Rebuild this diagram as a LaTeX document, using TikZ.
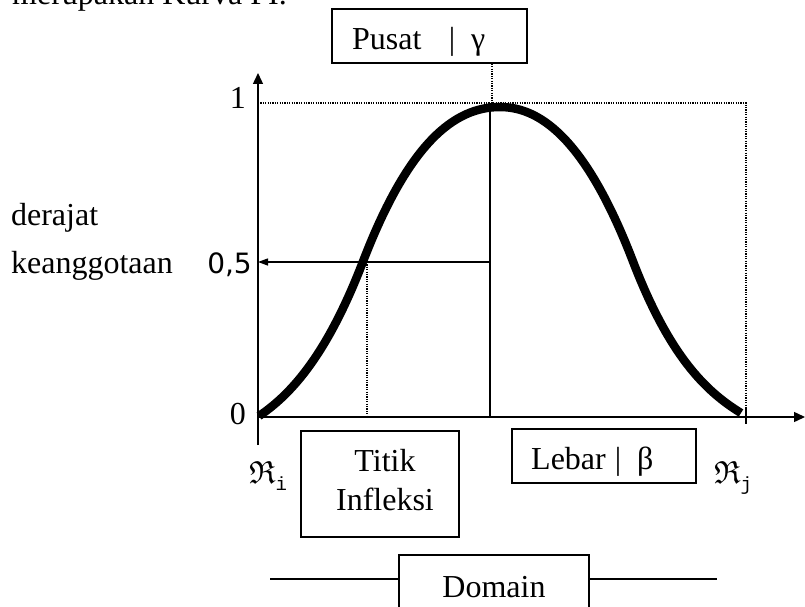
\documentclass[tikz,border=0pt]{standalone}
\usepackage{amssymb}
\usepackage{fontspec}
\setmainfont{Liberation Serif}
\newfontfamily\numfont{DejaVu Sans}
\newfontfamily\monof{Liberation Mono}
\usetikzlibrary{arrows.meta}
\begin{document}
\begin{tikzpicture}[x=1pt,y=-1pt,
  txt/.style={inner sep=0pt,font=\fontsize{32}{37}\selectfont},
  boxnode/.style={draw,line width=1.6pt,inner sep=0pt},
  axisline/.style={line width=1.4pt},
  dotline/.style={line width=1.3pt,dash pattern=on 1.2pt off 1.2pt},
  bigtip/.style={-{Triangle[length=11pt,width=10pt]}},
  smalltip/.style={-{Triangle[length=10pt,width=7pt]}},
  curveline/.style={line width=8.5pt,line join=round}]
\useasboundingbox (0,0) rectangle (805,607);

% title (cut at top, as in the source)
\node[txt,anchor=base west] (title) at (12,5) {merupakan Kurva PI.};

% coordinates
\coordinate (O) at (258,417);
\coordinate (ybot) at (258,445);
\coordinate (ytop) at (258,73);
\coordinate (xend) at (805,417);
\coordinate (one) at (258,103);
\coordinate (topright) at (746,103);
\coordinate (rightbot) at (746,417);
\coordinate (peak) at (492,103);
\coordinate (midtop) at (490,103);
\coordinate (midbot) at (490,417);
\coordinate (halfmid) at (490,262);
\coordinate (half) at (258,262);
\coordinate (infl) at (367,262);
\coordinate (inflbot) at (367,417);
\coordinate (ticktop) at (746,408);
\coordinate (tickbot) at (746,424);

% axes
\draw[axisline,bigtip] (ybot) -- (ytop);
\draw[axisline,bigtip] (O) -- (xend);

% dotted guides
\draw[dotline] (one) -- (topright) -- (rightbot);
\draw[dotline] (infl) -- (inflbot);
\draw[axisline] (ticktop) -- (tickbot);

% centre line and 0.5 arrow
\draw[axisline] (midtop) -- (midbot);
\draw[line width=1.3pt,smalltip] (halfmid) -- (half);

% bell curve (PI curve)
\draw[curveline] (259,416)
  .. controls (293,393) and (328,352.5) .. (363,261.5)
  .. controls (408.7,142.7) and (454.3,107) .. (500,107)
  .. controls (544.3,107) and (588.7,146.2) .. (633,261.5)
  .. controls (669,355.1) and (705,391) .. (741,413);

% axis labels
\node[txt,anchor=base east] (lab1) at (246,109) {1};
\node[txt,anchor=base east] (lab0) at (246,424) {0};
\node[inner sep=0pt,anchor=base east,font=\numfont\fontsize{28}{31}\selectfont] (lab05) at (252,273) {0,5};

% y label
\node[txt,anchor=base east] (keang) at (173,273) {keanggotaan};
\node[txt,anchor=base west] (deraj) at (keang.base west |- 0,225) {derajat};

% Pusat box
\node[boxnode,minimum width=195pt,minimum height=54pt] (pusat) at (429.5,36) {};
\node[txt,anchor=base west] (pusatt) at (352,50) {Pusat};
\node[txt,anchor=base] (pusatbar) at (452,50) {|};
\node[txt,anchor=base west] (gam) at (471,50) {γ};
\draw[dotline] (pusat.south -| peak) -- (peak);

% Titik Infleksi box
\node[boxnode,minimum width=158pt,minimum height=106pt] (titik) at (380,484) {};
\node[txt,anchor=base] (titik1) at (385,471) {Titik};
\node[txt,anchor=base] (titik2) at (385,510) {Infleksi};

% Lebar box
\node[boxnode,minimum width=184pt,minimum height=54pt] (lebar) at (604,456) {};
\node[txt,anchor=base west] (lebart) at (531,469) {Lebar};
\node[txt,anchor=base] (lebarbar) at (618,469) {|};
\node[txt,anchor=base west] (bet) at (637,469) {β};

% R_i and R_j
\node[txt,anchor=base west] (ri) at (249,483) {$\mathfrak{R}$\raisebox{-7pt}{\fontsize{19}{19}\monof i}};
\node[txt,anchor=base west] (rj) at (714,483) {$\mathfrak{R}$\raisebox{-7pt}{\fontsize{19}{19}\monof j}};

% Domain box
\node[boxnode,minimum width=190pt,minimum height=70pt] (domain) at (494,590) {};
\node[txt,anchor=base] (domaint) at (494,597) {Domain};
\coordinate (dl) at (270,579);
\coordinate (dr) at (717,579);
\draw[line width=1.4pt] (dl) -- (dl -| domain.west);
\draw[line width=1.4pt] (dr -| domain.east) -- (dr);
\end{tikzpicture}
\end{document}
